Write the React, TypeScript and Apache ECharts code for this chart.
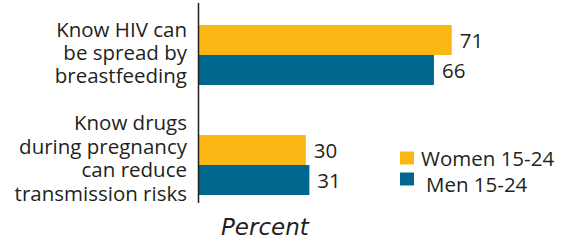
import React, { useEffect, useRef } from "react";
import * as echarts from "echarts";

const categories = [
  "Know HIV can\nbe spread by\nbreastfeeding",
  "Know drugs\nduring pregnancy\ncan reduce\ntransmission risks",
];
const seriesNames = ["Women 15-24", "Men 15-24"];
const womenValues = [71, 30];
const menValues = [66, 31];
const axisTitle = "Percent";

const YELLOW = "#FCB715";
const BLUE = "#00688F";
const TEXT = "#231F20";
const FONT = "'Open Sans', 'Noto Sans', sans-serif";
const FS = 20.5;

export default function App() {
  const ref = useRef<HTMLDivElement>(null);
  useEffect(() => {
    if (!ref.current) return;
    const chart = echarts.init(ref.current, null, { renderer: "svg" });
    const legendBase = {
      orient: "vertical",
      left: 400,
      padding: 0,
      itemWidth: 14,
      itemHeight: 13,
      icon: "rect",
      selectedMode: false,
    };
    const lineStyle = (lh: number) => ({
      fontSize: FS,
      fontFamily: FONT,
      color: TEXT,
      lineHeight: lh,
      align: "right",
    });
    chart.setOption({
      animation: false,
      backgroundColor: "#ffffff",
      textStyle: { fontFamily: FONT, color: TEXT },
      grid: { left: 199, width: 356, top: -4, height: 224, containLabel: false },
      xAxis: {
        type: "value",
        min: 0,
        max: 100,
        show: false,
      },
      yAxis: {
        type: "category",
        inverse: true,
        data: categories,
        axisLine: { show: false },
        axisTick: { show: false },
        splitLine: { show: false },
        axisLabel: {
          color: TEXT,
          fontFamily: FONT,
          fontSize: FS,
          align: "right",
          margin: 12,
          formatter: (value: string, index: number) =>
            value
              .split("\n")
              .map((l) => `{t${index}|${l}}`)
              .join("\n") + `\n{s${index}| }`,
          rich: {
            t0: lineStyle(23),
            t1: lineStyle(23.5),
            s0: { fontSize: 1, lineHeight: 6, align: "right" },
            s1: { fontSize: 1, lineHeight: 15, align: "right" },
          },
        },
      },
      legend: [
        {
          ...legendBase,
          top: 147.5,
          data: [seriesNames[0]],
          textStyle: {
            color: TEXT,
            fontFamily: FONT,
            fontSize: FS,
            lineHeight: 20,
            padding: [0, 0, 0, 2],
          },
        },
        {
          ...legendBase,
          top: 168.5,
          data: [seriesNames[1]],
          formatter: (name: string) => `{g| }\n{m|${name}}`,
          textStyle: {
            color: TEXT,
            fontFamily: FONT,
            fontSize: FS,
            padding: [0, 0, 0, 7],
            rich: {
              g: { fontSize: 1, lineHeight: 10 },
              m: { fontSize: FS, fontFamily: FONT, color: TEXT, lineHeight: 20 },
            },
          },
        },
      ],
      graphic: [
        {
          type: "line",
          shape: { x1: 198.5, y1: 3, x2: 198.5, y2: 203 },
          style: { stroke: TEXT, lineWidth: 1.5 },
          z: 10,
        },
        {
          type: "text",
          left: 221,
          top: 215,
          style: {
            text: axisTitle,
            fill: TEXT,
            fontFamily: "'DejaVu Sans', sans-serif",
            fontSize: 23,
            fontStyle: "italic",
          },
        },
      ],
      series: [
        {
          name: seriesNames[0],
          type: "bar",
          data: womenValues,
          barWidth: 30,
          barGap: "0%",
          itemStyle: { color: YELLOW },
          label: {
            show: true,
            position: "right",
            distance: 8,
            color: TEXT,
            fontFamily: FONT,
            fontSize: FS,
          },
        },
        {
          name: seriesNames[1],
          type: "bar",
          data: menValues,
          barWidth: 30,
          barGap: "0%",
          itemStyle: { color: BLUE },
          label: {
            show: true,
            position: "right",
            distance: 8,
            color: TEXT,
            fontFamily: FONT,
            fontSize: FS,
          },
        },
      ],
    });
    return () => chart.dispose();
  }, []);
  return (
    <div
      ref={ref}
      style={{ position: "absolute", left: 0, top: 0, width: 562, height: 243 }}
    />
  );
}
